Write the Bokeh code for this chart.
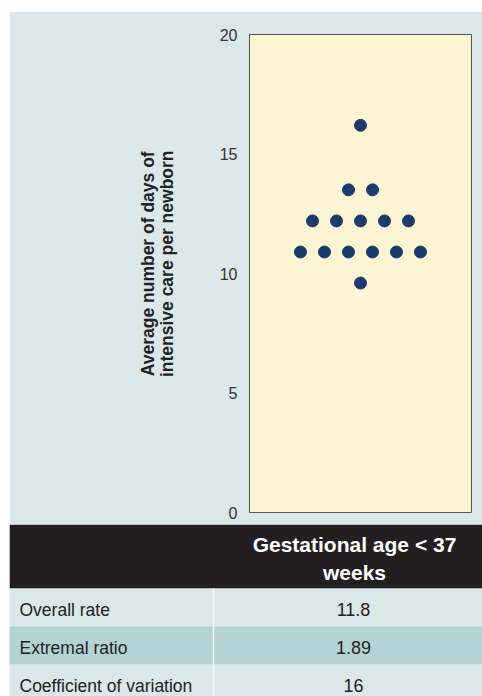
from collections import Counter

from bokeh.plotting import figure
from bokeh.models import Range1d, FixedTicker
from bokeh.layouts import column, row
from bokeh.embed import file_html
from bokeh.resources import INLINE
from bokeh.core.properties import value

# ---------------- data ----------------
days = [16.2, 13.5, 13.5, 12.2, 12.2, 12.2, 12.2, 12.2,
        10.9, 10.9, 10.9, 10.9, 10.9, 10.9, 9.6]
y_ticks = [0, 5, 10, 15, 20]
y_label_lines = ["Average number of days of", "intensive care per newborn"]
column_header = ["Gestational age < 37", "weeks"]
stat_names = ["Overall rate", "Extremal ratio", "Coefficient of variation"]
stat_values = ["11.8", "1.89", "16"]

# ---------------- style ----------------
FONT = "Liberation Sans"
BG = "#dbe8e9"
ROW_DARK = "#b3d3d5"
PLOT_BG = "#fdf4d4"
DOT = "#1c3b6d"
HEADER = "#231f20"
TEXT = "#222222"

W = 473
H1 = 513
H2 = 172

# beeswarm-style horizontal offsets for equal values
counts = Counter(days)
seen = Counter()
xs = []
for d in days:
    n = counts[d]
    i = seen[d]
    seen[d] += 1
    xs.append(i - (n - 1) / 2)

# ---------------- chart ----------------
p = figure(width=W, height=H1,
           x_range=Range1d(-4.625, 4.625), y_range=Range1d(0, 20),
           output_backend="svg", toolbar_location=None,
           x_axis_location=None,
           min_border_left=240, min_border_right=11,
           min_border_top=23, min_border_bottom=12)
p.grid.visible = False
p.background_fill_color = PLOT_BG
p.border_fill_color = BG
p.outline_line_color = "#555555"
p.outline_line_width = 1

yax = p.yaxis[0]
yax.ticker = FixedTicker(ticks=y_ticks)
yax.axis_line_color = None
yax.major_tick_line_color = None
yax.minor_tick_line_color = None
yax.major_tick_in = 0
yax.major_tick_out = 0
yax.major_label_standoff = 12
yax.major_label_text_font = FONT
yax.major_label_text_font_size = "16px"
yax.major_label_text_color = "#333333"
# leading no-break spaces nudge the centred title slightly upward, as in the original
pad = "\u00a0" * 4
yax.axis_label = "\n".join(pad + ln for ln in y_label_lines)
yax.axis_label_standoff = 40
yax.axis_label_text_font = FONT
yax.axis_label_text_font_style = "bold"
yax.axis_label_text_font_size = "17.5px"
yax.axis_label_text_line_height = 0.95
yax.axis_label_text_color = TEXT

p.scatter(xs, days, size=12, fill_color=DOT, line_color=DOT)

# ---------------- table ----------------
t = figure(width=W, height=H2,
           x_range=Range1d(0, W), y_range=Range1d(H2, 0),
           output_backend="svg", toolbar_location=None,
           x_axis_location=None, y_axis_location=None,
           min_border_left=0, min_border_right=0,
           min_border_top=0, min_border_bottom=0)
t.grid.visible = False
t.outline_line_color = None
t.background_fill_color = BG
t.border_fill_color = BG

HEAD_H = 64
ROW_H = 38
t.quad(left=[0], right=[W], top=[0], bottom=[HEAD_H], fill_color=HEADER, line_color=None)

n_rows = len(stat_names)
row_tops = [HEAD_H + i * ROW_H for i in range(n_rows)]
row_bottoms = [rt + ROW_H for rt in row_tops]
row_colors = [ROW_DARK if i % 2 == 1 else BG for i in range(n_rows)]
t.quad(left=[0] * n_rows, right=[W] * n_rows, top=row_tops, bottom=row_bottoms,
       fill_color=row_colors, line_color=None)

t.segment(x0=[204], y0=[HEAD_H], x1=[204], y1=[H2], line_color="#f2f7f7", line_width=1.5)

t.text(x=[345] * len(column_header), y=[20 + 28 * i for i in range(len(column_header))],
       text=column_header, text_align="center", text_baseline="middle",
       text_font=value(FONT), text_font_style="bold", text_font_size="21px",
       text_color="white")

row_centers = [rt + 21 for rt in row_tops]
t.text(x=[10] * n_rows, y=row_centers, text=stat_names,
       text_align="left", text_baseline="middle",
       text_font=value(FONT), text_font_size="17.5px", text_color=TEXT)
t.text(x=[344] * n_rows, y=row_centers, text=stat_values,
       text_align="center", text_baseline="middle",
       text_font=value(FONT), text_font_size="18px", text_color=TEXT)

layout = column(p, row(t), spacing=0, margin=(11, 0, 0, 9))
open("out.html", "w").write(file_html(layout, INLINE))
